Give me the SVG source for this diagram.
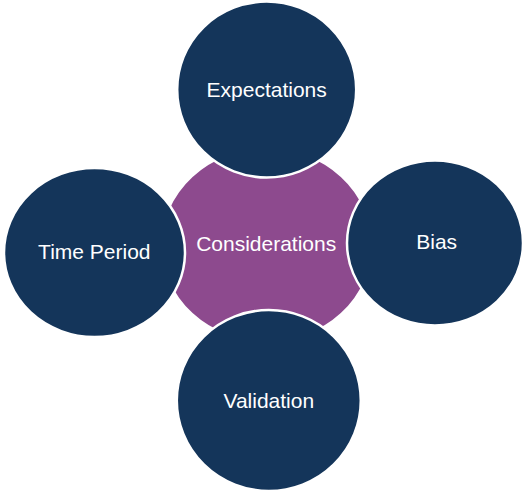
<svg xmlns="http://www.w3.org/2000/svg" width="522" height="491" viewBox="0 0 522 491">
<style>
.hub{fill:#8D4A8E;stroke:#FFFFFF;stroke-width:2.5}
.sat{fill:#14355A;stroke:#FFFFFF;stroke-width:2.5}
.lbl{font-family:"Liberation Sans",Arial,sans-serif;font-size:21px;fill:#FFFFFF;text-anchor:middle}
</style>
<rect width="522" height="491" fill="#FFFFFF"/>
<g id="connectors"></g>
<g id="considerations">
<ellipse class="hub" cx="266.7" cy="245" rx="106" ry="97.5"/>
<text class="lbl" x="266.2" y="251">Considerations</text>
</g>
<g id="expectations">
<ellipse class="sat" cx="266.7" cy="89.5" rx="89.5" ry="88"/>
<text class="lbl" x="266.7" y="96.7">Expectations</text>
</g>
<g id="bias">
<ellipse class="sat" cx="435" cy="243" rx="88" ry="82.5"/>
<text class="lbl" x="436.7" y="249.3">Bias</text>
</g>
<g id="validation">
<ellipse class="sat" cx="268.8" cy="400.5" rx="92" ry="90.5"/>
<text class="lbl" x="268.8" y="407.7">Validation</text>
</g>
<g id="time-period">
<ellipse class="sat" cx="94.5" cy="252.5" rx="90.5" ry="84.5"/>
<text class="lbl" x="94.3" y="259">Time Period</text>
</g>
</svg>
